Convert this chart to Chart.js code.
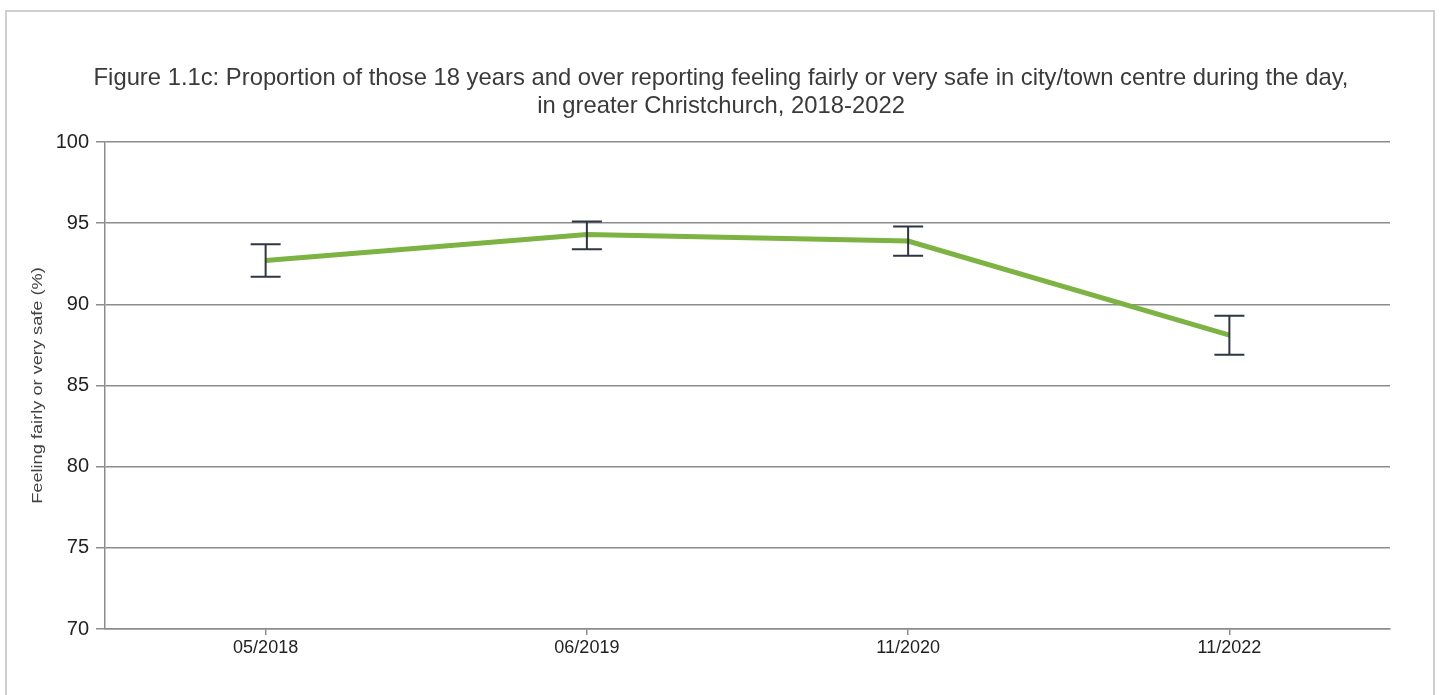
<!DOCTYPE html>
<html>
<head>
<meta charset="utf-8">
<script src="https://cdn.jsdelivr.net/npm/chart.js@4"></script>
<style>
    body { margin: 0; background: #fff; }
    #frame { position: absolute; left: 5px; top: 10px; width: 1426px; height: 720px; border: 2px solid #cfcfcf; }
    #safetyChart { position: absolute; left: 0; top: 0; }
</style>
</head>
<body>
<div id="frame"></div>
<canvas id="safetyChart" width="1442" height="695"></canvas>
<script>
// survey periods and results (%)
const categories = ['05/2018', '06/2019', '11/2020', '11/2022'];
const safeValues = [92.7, 94.3, 93.9, 88.1];
const lowerCI = [91.7, 93.4, 93.0, 86.9];
const upperCI = [93.7, 95.1, 94.8, 89.3];
const yMin = 70;
const yMax = 100;
const yStep = 5;

const titleLines = [
    'Figure 1.1c: Proportion of those 18 years and over reporting feeling fairly or very safe in city/town centre during the day,',
    'in greater Christchurch, 2018-2022'
];
const yAxisTitle = 'Feeling fairly or very safe (%)';

const fontFamily = "'Liberation Sans', Arial, sans-serif";

// draws the confidence interval whiskers
const errorBars = {
    id: 'errorBars',
    afterDatasetsDraw: function(chart) {
        let ctx = chart.ctx;
        let xs = chart.scales.x;
        let ys = chart.scales.y;
        ctx.save();
        ctx.strokeStyle = '#2f3542';
        ctx.lineWidth = 2;
        for (let i = 0; i < categories.length; i++) {
            let x = xs.getPixelForValue(i);
            let top = ys.getPixelForValue(upperCI[i]);
            let bottom = ys.getPixelForValue(lowerCI[i]);
            ctx.beginPath();
            ctx.moveTo(x, top);
            ctx.lineTo(x, bottom);
            ctx.moveTo(x - 15, top);
            ctx.lineTo(x + 15, top);
            ctx.moveTo(x - 15, bottom);
            ctx.lineTo(x + 15, bottom);
            ctx.stroke();
        }
        ctx.restore();
    }
};

// rotated y axis title, stretched a little like the original
const yTitle = {
    id: 'yTitle',
    afterDraw: function(chart) {
        let ctx = chart.ctx;
        let area = chart.chartArea;
        ctx.save();
        ctx.translate(38, (area.top + area.bottom) / 2);
        ctx.rotate(-Math.PI / 2);
        ctx.scale(1.3, 1);
        ctx.font = '14px ' + fontFamily;
        ctx.fillStyle = '#444';
        ctx.textAlign = 'center';
        ctx.textBaseline = 'middle';
        ctx.fillText(yAxisTitle, 0, 0);
        ctx.restore();
    }
};

let ctx = document.getElementById('safetyChart').getContext('2d');
let safetyChart = new Chart(ctx, {
    type: 'line',
    data: {
        labels: categories,
        datasets: [{
            label: 'Feeling safe',
            data: safeValues,
            borderColor: '#7cb342',
            borderWidth: 5,
            pointRadius: 0,
            tension: 0,
            fill: false
        }]
    },
    options: {
        responsive: false,
        animation: false,
        layout: { padding: { left: 0, right: 0, top: 0, bottom: 0 } },
        plugins: {
            legend: { display: false },
            tooltip: { enabled: false },
            title: {
                display: true,
                text: titleLines,
                color: '#3a3a3a',
                font: { family: fontFamily, size: 23.8, weight: 'normal', lineHeight: 28 / 23.8 },
                padding: { top: 64, bottom: 22 }
            }
        },
        scales: {
            x: {
                offset: true,
                grid: {
                    drawOnChartArea: false,
                    drawTicks: true,
                    tickLength: 6,
                    color: '#8c8c8c',
                    lineWidth: 1.5
                },
                border: { display: true, color: '#8c8c8c', width: 1.5 },
                ticks: {
                    color: '#222',
                    padding: 2,
                    maxRotation: 0,
                    font: { family: fontFamily, size: 18 }
                },
                afterFit: function(scale) { scale.height = 66; }
            },
            y: {
                min: yMin,
                max: yMax,
                grid: {
                    color: '#8c8c8c',
                    lineWidth: 1.5,
                    tickLength: 9
                },
                border: { display: true, color: '#8c8c8c', width: 1.5 },
                ticks: {
                    stepSize: yStep,
                    color: '#222',
                    padding: 7,
                    font: { family: fontFamily, size: 20 }
                },
                afterFit: function(scale) { scale.width = 105; }
            },
            yRight: {
                position: 'right',
                display: true,
                min: yMin,
                max: yMax,
                grid: { display: false, drawTicks: false },
                border: { display: false },
                ticks: { display: false },
                afterFit: function(scale) { scale.width = 52; }
            }
        }
    },
    plugins: [errorBars, yTitle]
});
</script>
</body>
</html>
